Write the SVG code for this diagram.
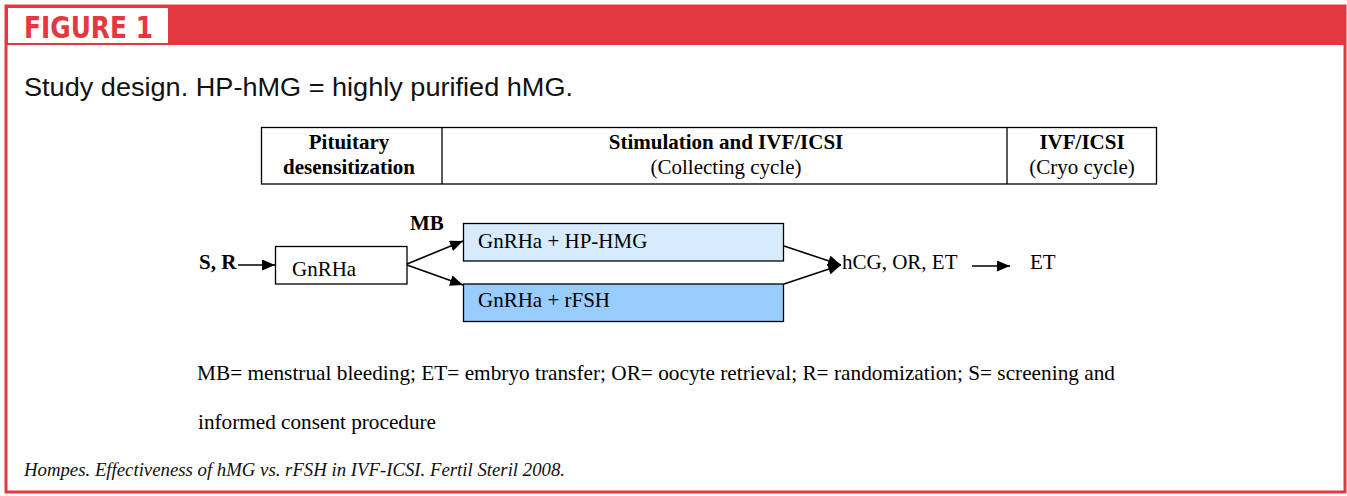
<svg xmlns="http://www.w3.org/2000/svg" width="1347" height="496" viewBox="0 0 1347 496">
<style>
.serif{font-family:"Liberation Serif","Times New Roman",serif;font-size:21px;fill:#000}
.b{font-weight:bold}
.box{stroke:#000;stroke-width:1.3}
.ln{stroke:#000;stroke-width:1.6;fill:none}
</style>
<defs>
<marker id="ah" viewBox="0 0 13 11" refX="13" refY="5.5" markerWidth="13" markerHeight="11" markerUnits="userSpaceOnUse" orient="auto">
<path d="M0,0 L13,5.5 L0,11 Z" fill="#000"/>
</marker>
</defs>
<rect x="0" y="0" width="1347" height="496" fill="#fff"/>
<g id="frame">
<rect x="6" y="6" width="1339" height="486" fill="none" stroke="#E3383F" stroke-width="3"/>
<rect x="5" y="5" width="1341" height="40" fill="#E3383F"/>
<rect x="8" y="8" width="160" height="35" fill="#fff"/>
<text x="24" y="38" font-family="'Liberation Sans Narrow','DejaVu Sans Condensed',sans-serif" font-weight="bold" font-size="31" fill="#E3383F" textLength="129" lengthAdjust="spacingAndGlyphs">FIGURE 1</text>
<text x="24" y="96" font-family="'Liberation Sans',Arial,sans-serif" font-size="25" fill="#111" textLength="549" lengthAdjust="spacingAndGlyphs">Study design. HP-hMG = highly purified hMG.</text>
</g>
<g id="table">
<rect x="261.5" y="127.5" width="895" height="56.5" fill="#fff" stroke="#000" stroke-width="1.3"/>
<line x1="442" y1="127.5" x2="442" y2="184" stroke="#000" stroke-width="1.3"/>
<line x1="1007" y1="127.5" x2="1007" y2="184" stroke="#000" stroke-width="1.3"/>
<text class="serif b" x="349" y="149" text-anchor="middle">Pituitary</text>
<text class="serif b" x="349" y="174" text-anchor="middle">desensitization</text>
<text class="serif b" x="726" y="149" text-anchor="middle">Stimulation and IVF/ICSI</text>
<text class="serif" x="726" y="174" text-anchor="middle">(Collecting cycle)</text>
<text class="serif b" x="1082" y="149" text-anchor="middle">IVF/ICSI</text>
<text class="serif" x="1082" y="174" text-anchor="middle">(Cryo cycle)</text>
</g>
<g id="connectors">
<line class="ln" x1="238" y1="265" x2="275" y2="265" marker-end="url(#ah)"/>
<line class="ln" x1="407" y1="264" x2="463" y2="241" marker-end="url(#ah)"/>
<line class="ln" x1="407" y1="265" x2="463" y2="285" marker-end="url(#ah)"/>
<line class="ln" x1="784" y1="246" x2="841" y2="265" marker-end="url(#ah)"/>
<line class="ln" x1="784" y1="284" x2="841" y2="265" marker-end="url(#ah)"/>
<line class="ln" x1="972" y1="266" x2="1010" y2="266" marker-end="url(#ah)"/>
</g>
<g id="sr"><text class="serif b" x="199" y="269">S, R</text></g>
<g id="mb"><text class="serif b" x="410" y="230">MB</text></g>
<g id="gnrha">
<rect class="box" x="275.5" y="246.5" width="131.5" height="37.5" fill="#fff"/>
<text class="serif" x="292" y="276">GnRHa</text>
</g>
<g id="hphmg">
<rect class="box" x="463.5" y="223.5" width="320" height="37.5" fill="#D6EBFD"/>
<text class="serif" x="478" y="248">GnRHa + HP-HMG</text>
</g>
<g id="rfsh">
<rect class="box" x="463.5" y="284" width="320" height="37.5" fill="#99CCFF"/>
<text class="serif" x="478" y="307">GnRHa + rFSH</text>
</g>
<g id="hcg"><text class="serif" x="842" y="269">hCG, OR, ET</text></g>
<g id="et"><text class="serif" x="1030" y="269">ET</text></g>
<g id="legend">
<text class="serif" x="197" y="380" textLength="918" lengthAdjust="spacingAndGlyphs">MB= menstrual bleeding; ET= embryo transfer; OR= oocyte retrieval; R= randomization; S= screening and</text>
<text class="serif" x="198" y="429" textLength="238" lengthAdjust="spacingAndGlyphs">informed consent procedure</text>
</g>
<text x="24" y="476" font-family="'Liberation Serif','Times New Roman',serif" font-style="italic" font-size="18" fill="#111" textLength="541" lengthAdjust="spacingAndGlyphs">Hompes. Effectiveness of hMG vs. rFSH in IVF-ICSI. Fertil Steril 2008.</text>
</svg>
